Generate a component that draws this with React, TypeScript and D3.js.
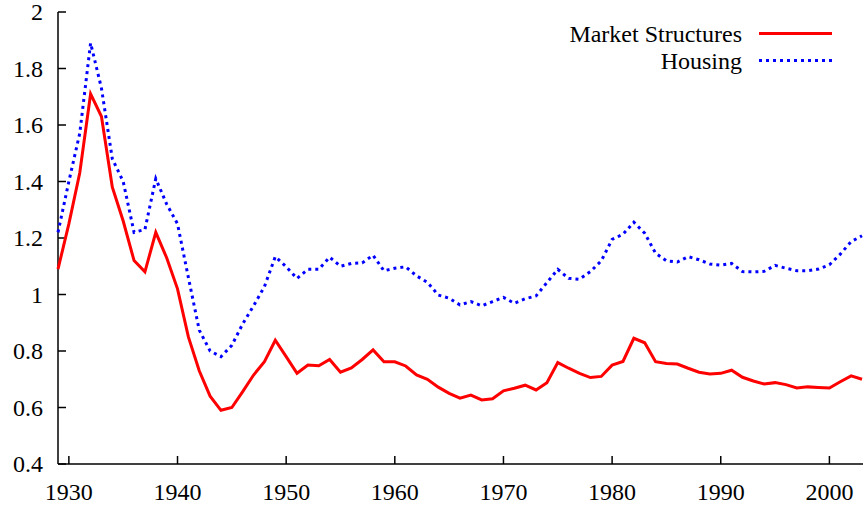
import * as d3 from 'd3'
import { FC } from 'react'

const years: number[] = d3.range(1929, 2004)

const marketStructures: number[] = [
    1.09, 1.25, 1.43, 1.71, 1.63, 1.38, 1.26, 1.12, 1.08, 1.22,
    1.13, 1.02, 0.85, 0.73, 0.64, 0.59, 0.6, 0.656, 0.715, 0.762,
    0.838, 0.78, 0.721, 0.75, 0.748, 0.77, 0.725, 0.74, 0.77, 0.804,
    0.762, 0.762, 0.747, 0.715, 0.7, 0.672, 0.65, 0.633, 0.644, 0.627,
    0.631, 0.659, 0.668, 0.679, 0.662, 0.688, 0.759, 0.739, 0.721, 0.706,
    0.71, 0.75, 0.763, 0.845, 0.829, 0.762, 0.756, 0.754, 0.739, 0.725,
    0.719, 0.721, 0.732, 0.707, 0.694, 0.683, 0.688, 0.681, 0.669, 0.673,
    0.671, 0.669, 0.691, 0.712, 0.7,
]

const housing: number[] = [
    1.22, 1.4, 1.57, 1.89, 1.73, 1.48, 1.4, 1.22, 1.23, 1.41,
    1.32, 1.25, 1.06, 0.874, 0.8, 0.78, 0.82, 0.896, 0.96, 1.028,
    1.134, 1.098, 1.057, 1.089, 1.089, 1.132, 1.1, 1.11, 1.112, 1.139,
    1.084, 1.093, 1.098, 1.066, 1.043, 0.998, 0.987, 0.963, 0.975, 0.96,
    0.975, 0.99, 0.969, 0.985, 0.995, 1.042, 1.089, 1.057, 1.054, 1.081,
    1.119, 1.195, 1.213, 1.256, 1.217, 1.146, 1.119, 1.115, 1.134, 1.123,
    1.108, 1.104, 1.11, 1.081, 1.08, 1.082, 1.103, 1.093, 1.084, 1.084,
    1.09, 1.105, 1.143, 1.187, 1.208,
]

const xTicks: number[] = [1930, 1940, 1950, 1960, 1970, 1980, 1990, 2000]
const yTicks: number[] = [0.4, 0.6, 0.8, 1, 1.2, 1.4, 1.6, 1.8, 2]

const seriesNames: string[] = ['Market Structures', 'Housing']

const App: FC = () => {
    const dimensions = { width: 863, height: 507 }
    const textStyle = { fontFamily: 'Liberation Serif, DejaVu Serif, serif', fontSize: '24px' }

    const x = d3.scaleLinear().domain([1929, 2003]).range([58, 862])
    const y = d3.scaleLinear().domain([0.4, 2]).range([464, 12])

    const line = d3.line<number>()
        .x((_, i) => x(years[i]))
        .y((v) => y(v))

    const series = [
        { name: seriesNames[0], values: marketStructures, color: '#ff0000', dash: undefined },
        { name: seriesNames[1], values: housing, color: '#0000ff', dash: '3,4' },
    ]

    return (
        <svg
            width={dimensions.width}
            height={dimensions.height}
            style={{ position: 'absolute', left: 0, top: 0, background: '#fff' }}
        >
            {/* axes */}
            <line x1={58} x2={58} y1={12} y2={464} stroke="#000" strokeWidth={1.5} />
            <line x1={58} x2={863} y1={464} y2={464} stroke="#000" strokeWidth={1.5} />
            {yTicks.map((t) => (
                <g key={t}>
                    <line x1={58} x2={66} y1={y(t)} y2={y(t)} stroke="#000" strokeWidth={1.5} />
                    <text x={43} y={y(t)} dy="0.35em" textAnchor="end" style={textStyle} fill="#000">
                        {t}
                    </text>
                </g>
            ))}
            {xTicks.map((t) => (
                <g key={t}>
                    <line x1={x(t)} x2={x(t)} y1={464} y2={456} stroke="#000" strokeWidth={1.5} />
                    <text x={x(t)} y={500} textAnchor="middle" style={textStyle} fill="#000">
                        {t}
                    </text>
                </g>
            ))}

            {/* lines */}
            {series.map((s) => (
                <path
                    key={s.name}
                    d={line(s.values) ?? ''}
                    fill="none"
                    stroke={s.color}
                    strokeWidth={3}
                    strokeDasharray={s.dash}
                    strokeLinejoin="miter"
                />
            ))}

            {/* legend */}
            {series.map((s, i) => (
                <g key={s.name}>
                    <text x={742} y={42 + i * 27} textAnchor="end" style={textStyle} fill="#000">
                        {s.name}
                    </text>
                    <line
                        x1={759}
                        x2={832}
                        y1={33.5 + i * 27}
                        y2={33.5 + i * 27}
                        stroke={s.color}
                        strokeWidth={3}
                        strokeDasharray={s.dash}
                    />
                </g>
            ))}
        </svg>
    )
}

export default App
